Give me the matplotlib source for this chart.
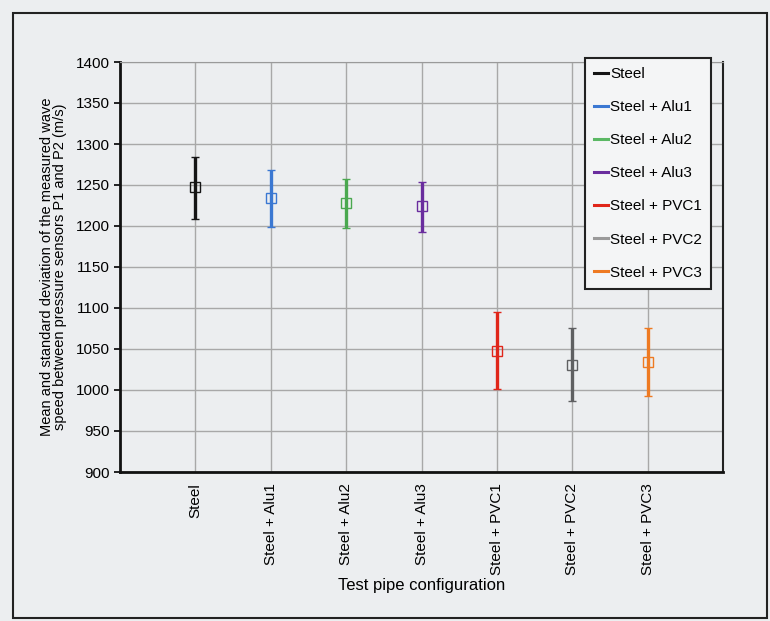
import matplotlib.pyplot as plt
from matplotlib.patches import Rectangle

# Datos
configs = ["Steel", "Steel + Alu1", "Steel + Alu2", "Steel + Alu3",
           "Steel + PVC1", "Steel + PVC2", "Steel + PVC3"]
means = [1247, 1234, 1228, 1224, 1047, 1031, 1034]
upper = [1284, 1268, 1257, 1254, 1095, 1075, 1076]
lower = [1209, 1199, 1198, 1193, 1001, 987, 993]
colors = ["#151515", "#3b78d2", "#4aa84f", "#6a2d9e", "#e0261a", "#5f6062", "#ee7a22"]
legend_colors = ["#151515", "#3b78d2", "#5bb864", "#6a2d9e", "#e0261a", "#9a9a9a", "#ee7a22"]

plt.rcParams["font.family"] = ["Liberation Sans", "DejaVu Sans"]

bg = "#eceef0"
fig = plt.figure(figsize=(7.7, 6.21), dpi=100, facecolor=bg)
ax = fig.add_axes([120 / 770, 1 - 472 / 621, 603 / 770, 410 / 621], facecolor=bg)

x = list(range(1, len(configs) + 1))
for i in range(len(configs)):
    err = [[means[i] - lower[i]], [upper[i] - means[i]]]
    ax.errorbar([x[i]], [means[i]], yerr=err, fmt="s", color=colors[i],
                ecolor=colors[i], elinewidth=2.4, capsize=3.2, capthick=3,
                markersize=6.5, markerfacecolor="none", markeredgecolor=colors[i],
                markeredgewidth=1.0, zorder=3)
    ax.plot([], [], color=legend_colors[i], lw=2.2, label=configs[i])

ax.set_xlim(0, 8)
ax.set_ylim(900, 1400)
ax.set_yticks(range(900, 1401, 50))
ax.set_xticks(x)
ax.set_xticklabels(configs, rotation=90, fontsize=11)
ax.tick_params(axis="x", length=0, pad=8)
ax.tick_params(axis="y", labelsize=11, length=4, width=1.2, direction="out")
ax.grid(True, color="#a8a8a8", lw=1.0)
ax.set_axisbelow(True)

ax.spines["left"].set_linewidth(2)
ax.spines["bottom"].set_linewidth(2)
ax.spines["left"].set_color("#111111")
ax.spines["bottom"].set_color("#111111")
ax.spines["top"].set_color("#9a9a9a")
ax.spines["right"].set_color("#222222")
ax.spines["right"].set_linewidth(1.5)

ax.set_xlabel("Test pipe configuration", fontsize=12, labelpad=2)
ax.set_ylabel("Mean and standard deviation of the measured wave\n"
              "speed between pressure sensors P1 and P2 (m/s)",
              fontsize=10.5, linespacing=0.95, labelpad=6)

leg = ax.legend(loc="upper right", bbox_to_anchor=(0.98, 1.01), fontsize=11,
                handlelength=0.9, handletextpad=0.15, labelspacing=1.25,
                fancybox=False, frameon=True, borderpad=0.6, borderaxespad=0)
leg.get_frame().set_edgecolor("#222222")
leg.get_frame().set_linewidth(1.5)
leg.get_frame().set_facecolor("#f4f5f6")
leg.get_frame().set_alpha(1)

# Marco exterior
fig.patches.append(Rectangle((13 / 770, 3 / 621), 754 / 770, 605 / 621,
                             transform=fig.transFigure, fill=False,
                             edgecolor="#222222", lw=1.5))

fig.savefig("out.png", dpi=100, facecolor=bg)
